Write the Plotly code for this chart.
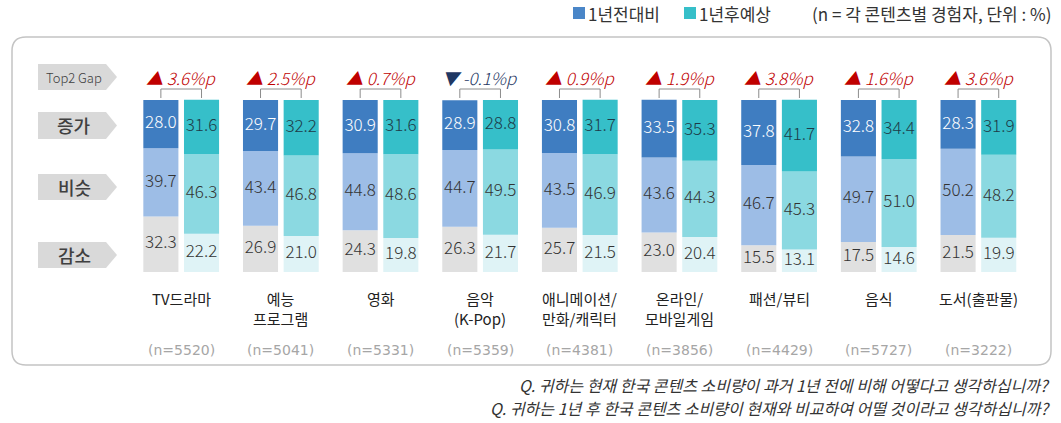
import plotly.graph_objects as go

# ---------------- data ----------------
categories = ["TV드라마", "예능<br>프로그램", "영화", "음악<br>(K-Pop)", "애니메이션/<br>만화/캐릭터",
              "온라인/<br>모바일게임", "패션/뷰티", "음식", "도서(출판물)"]
n_labels = ["(n=5520)", "(n=5041)", "(n=5331)", "(n=5359)", "(n=4381)",
            "(n=3856)", "(n=4429)", "(n=5727)", "(n=3222)"]
prev_up = [28.0, 29.7, 30.9, 28.9, 30.8, 33.5, 37.8, 32.8, 28.3]
prev_same = [39.7, 43.4, 44.8, 44.7, 43.5, 43.6, 46.7, 49.7, 50.2]
prev_down = [32.3, 26.9, 24.3, 26.3, 25.7, 23.0, 15.5, 17.5, 21.5]
next_up = [31.6, 32.2, 31.6, 28.8, 31.7, 35.3, 41.7, 34.4, 31.9]
next_same = [46.3, 46.8, 48.6, 49.5, 46.9, 44.3, 45.3, 51.0, 48.2]
next_down = [22.2, 21.0, 19.8, 21.7, 21.5, 20.4, 13.1, 14.6, 19.9]
top2_gap = [3.6, 2.5, 0.7, -0.1, 0.9, 1.9, 3.8, 1.6, 3.6]
row_labels = ["증가", "비슷", "감소"]
series_names = ["1년전대비", "1년후예상"]
unit_note = "(n = 각 콘텐츠별 경험자, 단위 : %)"
questions = ["Q. 귀하는 현재 한국 콘텐츠 소비량이 과거 1년 전에 비해 어떻다고 생각하십니까?",
             "Q. 귀하는 1년 후 한국 콘텐츠 소비량이 현재와 비교하여 어떨 것이라고 생각하십니까?"]

# ---------------- style ----------------
W, H = 1061, 423
FONT = "Noto Sans CJK KR"
C_PREV = ["#3f7dc1", "#9dbde6", "#e0e0e0"]   # up, same, down
C_NEXT = ["#36bfc9", "#8bd9e1", "#dff3f6"]
TXT = "#333333"

def px(x):
    return x / W

def py(y):
    return 1 - y / H

x_idx = list(range(len(categories)))
SP = 99.65          # px per category
X0 = 181.3          # px of first category centre
BW = 0.352
OFF1, OFF2 = -0.381, 0.027

fig = go.Figure()

def add_stack(up, same, down, colors, offset, name):
    bases = [[0] * len(up), down, [d + s for d, s in zip(down, same)]]
    vals = [down, same, up]
    cols = [colors[2], colors[1], colors[0]]
    for v, b, c in zip(vals, bases, cols):
        fig.add_trace(go.Bar(x=x_idx, y=v, base=b, width=BW, offset=offset,
                             marker=dict(color=c, line=dict(width=0)),
                             name=name, showlegend=False, hoverinfo="skip"))

add_stack(prev_up, prev_same, prev_down, C_PREV, OFF1, series_names[0])
add_stack(next_up, next_same, next_down, C_NEXT, OFF2, series_names[1])

# value labels at segment centres
def add_labels(up, same, down, offset, up_color):
    xc = [i + offset + BW / 2 for i in x_idx]
    segs = [(down, [0] * len(down), TXT),
            (same, down, TXT),
            (up, [d + s for d, s in zip(down, same)], up_color)]
    for v, b, col in segs:
        fig.add_trace(go.Scatter(x=xc, y=[bb + vv / 2 for bb, vv in zip(b, v)],
                                 mode="text", text=[f"{vv:.1f}" for vv in v],
                                 textfont=dict(family=FONT, size=17, color=col, weight=300),
                                 showlegend=False, hoverinfo="skip", cliponaxis=False))

add_labels(prev_up, prev_same, prev_down, OFF1, "#ffffff")
add_labels(next_up, next_same, next_down, OFF2, "#1d3b48")

shapes = []
annotations = []

# outer rounded box
def rounded_rect(x0, y0, x1, y1, r):
    return (f"M {px(x0 + r)},{py(y0)} L {px(x1 - r)},{py(y0)} "
            f"Q {px(x1)},{py(y0)} {px(x1)},{py(y0 + r)} L {px(x1)},{py(y1 - r)} "
            f"Q {px(x1)},{py(y1)} {px(x1 - r)},{py(y1)} L {px(x0 + r)},{py(y1)} "
            f"Q {px(x0)},{py(y1)} {px(x0)},{py(y1 - r)} L {px(x0)},{py(y0 + r)} "
            f"Q {px(x0)},{py(y0)} {px(x0 + r)},{py(y0)} Z")

shapes.append(dict(type="path", xref="paper", yref="paper", path=rounded_rect(12, 37, 1051, 365, 14),
                   line=dict(color="#c4c4c4", width=1.5), fillcolor="rgba(0,0,0,0)", layer="below"))

# left arrow labels
def arrow(x0, y0, x1, y1, tip):
    ym = (y0 + y1) / 2
    return (f"M {px(x0)},{py(y0)} L {px(x1 - tip)},{py(y0)} L {px(x1)},{py(ym)} "
            f"L {px(x1 - tip)},{py(y1)} L {px(x0)},{py(y1)} Z")

left_items = [("Top2 Gap", 64, 90, 13, 300), (row_labels[0], 112, 139, 18, 500),
              (row_labels[1], 174, 200, 18, 500), (row_labels[2], 242, 268, 18, 500)]
for txt, y0, y1, fs, wt in left_items:
    shapes.append(dict(type="path", xref="paper", yref="paper", path=arrow(38, y0, 117, y1, 11),
                       fillcolor="#d9d9d9", line=dict(width=0), layer="below"))
    annotations.append(dict(x=px(74), y=py((y0 + y1) / 2), xref="paper", yref="paper",
                            text=txt, showarrow=False, xanchor="center", yanchor="middle",
                            font=dict(family=FONT, size=fs, color="#404040", weight=wt)))

# gap labels + brackets
for i, g in zip(x_idx, top2_gap):
    if g >= 0:
        col, tri = "#c00000", "▲"
    else:
        col, tri = "#1f3864", "▼"
    annotations.append(dict(x=i, y=py(77), xref="x", yref="paper", showarrow=False,
                            text=f"<i>{tri} {g:.1f}%p</i>", xanchor="center", yanchor="middle",
                            font=dict(family=FONT, size=17, color=col, weight=300)))
    xl = i + OFF1 + BW / 2
    xr = i + OFF2 + BW / 2
    for path_pts in ([(xl, 98), (xl, 89)], [(xl, 89), (xr, 89)], [(xr, 89), (xr, 98)]):
        (a, b), (c, d) = path_pts
        shapes.append(dict(type="line", xref="x", yref="paper", x0=a, x1=c, y0=py(b), y1=py(d),
                           line=dict(color="#8c8c8c", width=1)))

# category labels and n labels
for i, c, n in zip(x_idx, categories, n_labels):
    annotations.append(dict(x=i, y=py(286), xref="x", yref="paper", showarrow=False,
                            text=c, xanchor="center", yanchor="top", align="center",
                            font=dict(family=FONT, size=15, color="#222222")))
    annotations.append(dict(x=i, y=py(350), xref="x", yref="paper", showarrow=False,
                            text=n, xanchor="center", yanchor="middle",
                            font=dict(family="DejaVu Sans", size=14, color="#a6a6a6")))

# legend
shapes.append(dict(type="rect", xref="paper", yref="paper", x0=px(573), x1=px(585), y0=py(19), y1=py(7),
                   fillcolor="#4a86c8", line=dict(width=0)))
shapes.append(dict(type="rect", xref="paper", yref="paper", x0=px(684), x1=px(696), y0=py(19), y1=py(7),
                   fillcolor="#36bfc9", line=dict(width=0)))
annotations.append(dict(x=px(586), y=py(13), xref="paper", yref="paper", showarrow=False,
                        text=series_names[0], xanchor="left", yanchor="middle",
                        font=dict(family=FONT, size=17, color="#333333")))
annotations.append(dict(x=px(697), y=py(13), xref="paper", yref="paper", showarrow=False,
                        text=series_names[1], xanchor="left", yanchor="middle",
                        font=dict(family=FONT, size=17, color="#333333")))
annotations.append(dict(x=px(1053), y=py(13), xref="paper", yref="paper", showarrow=False,
                        text=unit_note, xanchor="right", yanchor="middle",
                        font=dict(family=FONT, size=17, color="#333333")))

# questions
for k, q in enumerate(questions):
    annotations.append(dict(x=px(1052), y=py(385 + 23 * k), xref="paper", yref="paper",
                            showarrow=False, text=f"<i>{q}</i>", xanchor="right", yanchor="middle",
                            font=dict(family=FONT, size=16, color="#333333")))

fig.update_layout(
    width=W, height=H, margin=dict(l=0, r=0, t=0, b=0),
    paper_bgcolor="white", plot_bgcolor="white",
    barmode="overlay", showlegend=False,
    xaxis=dict(range=[-X0 / SP, (W - X0) / SP], visible=False, fixedrange=True),
    yaxis=dict(range=[(272 - H) / 1.72, 272 / 1.72], visible=False, fixedrange=True),
    shapes=shapes, annotations=annotations,
)

fig.write_html("out.html")
